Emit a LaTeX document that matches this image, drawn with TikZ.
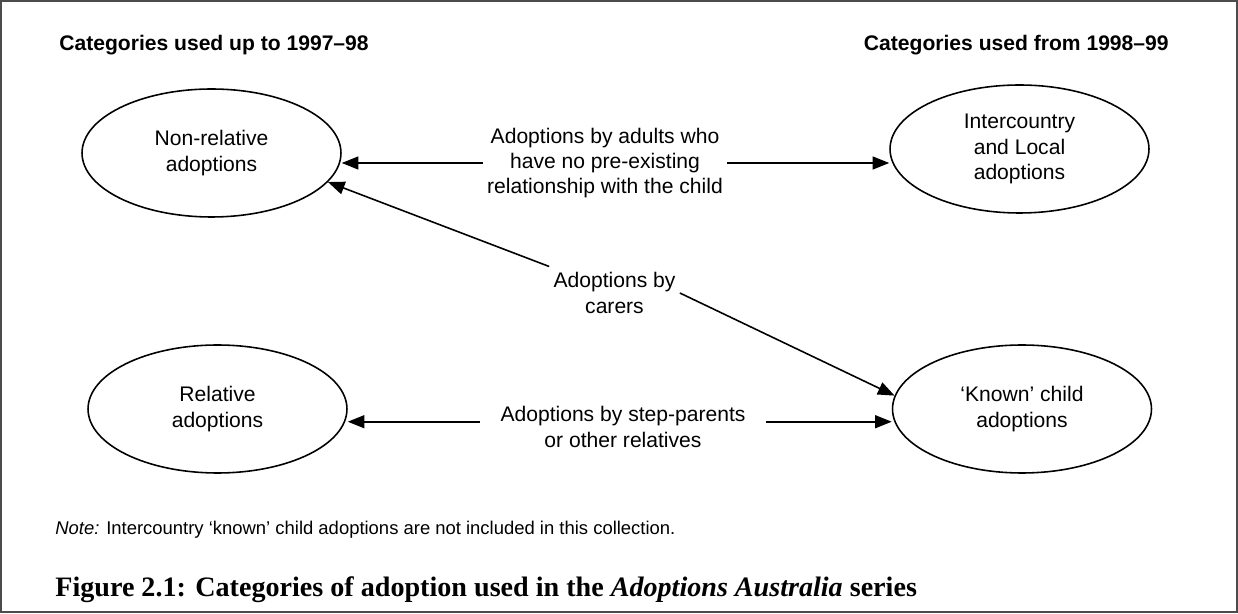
\documentclass[tikz,border=0pt]{standalone}
\usepackage{fontspec}
\setmainfont{Liberation Sans}
\newfontfamily\capfont{Liberation Serif}
\usetikzlibrary{arrows.meta,shapes.geometric}

\begin{document}
\begin{tikzpicture}[x=0.02cm,y=-0.02cm,
  cat/.style={ellipse,draw,line width=0.9pt,minimum width=5.18cm,minimum height=2.56cm,
    inner sep=0pt,align=center,font=\fontsize{12}{14.5}\selectfont},
  lab/.style={align=center,inner xsep=2.3pt,font=\fontsize{12}{14.3}\selectfont},
  head/.style={anchor=base west,inner sep=0pt,font=\bfseries\fontsize{12}{14}\selectfont},
  conn/.style={-{Triangle[length=9.5pt,width=7.4pt]},line width=0.9pt}]
\useasboundingbox (0,0) rectangle (1238,614);
\draw[line width=1pt,black!70] (1,1) rectangle (1237,612);
% column headings
\node[head] (oldhead) at (59,51) {Categories used up to 1997–98};
\node[head,anchor=base east] (newhead) at (1169,51) {Categories used from 1998–99};
% categories
\node[cat] (nonrel) at (211.5,153) {Non-relative\\adoptions};
\node[cat] (intl) at (1019.5,149) {Intercountry\\and Local\\adoptions};
\node[cat] (rel) at (217.5,409) {Relative\\adoptions};
\node[cat] (known) at (1022,409) {‘Known’ child\\adoptions};
% middle labels
\node[lab] (adults) at (605,163) {Adoptions by adults who\\have no pre-existing\\relationship with the child};
\node[lab] (carers) at (614.5,293) {Adoptions by\\carers};
\node[lab,inner xsep=11.5pt] (steps) at (623,427) {Adoptions by step-parents\\or other relatives};
\draw[conn] (adults.west) -- (adults.west -| nonrel.east);
\draw[conn] (adults.east) -- (adults.east -| intl.west);
\draw[conn] (carers.north west) -- (nonrel.-14);
\draw[conn] (carers.east) -- (known.174);
\draw[conn] ([yshift=3pt]steps.west) -- ([yshift=3pt]steps.west -| rel.east);
\draw[conn] ([yshift=3pt]steps.east) -- ([yshift=3pt]steps.east -| known.west);
% note and caption
\node[anchor=base west,inner sep=0pt,font=\fontsize{10.5}{12}\selectfont] (note) at (55,535)
  {\textit{Note:} Intercountry ‘known’ child adoptions are not included in this collection.};
\node[anchor=base west,inner sep=0pt,font=\capfont\bfseries\fontsize{16}{19}\selectfont] (caption) at (55,597)
  {Figure 2.1: Categories of adoption used in the \textit{Adoptions Australia} series};
\end{tikzpicture}
\end{document}
